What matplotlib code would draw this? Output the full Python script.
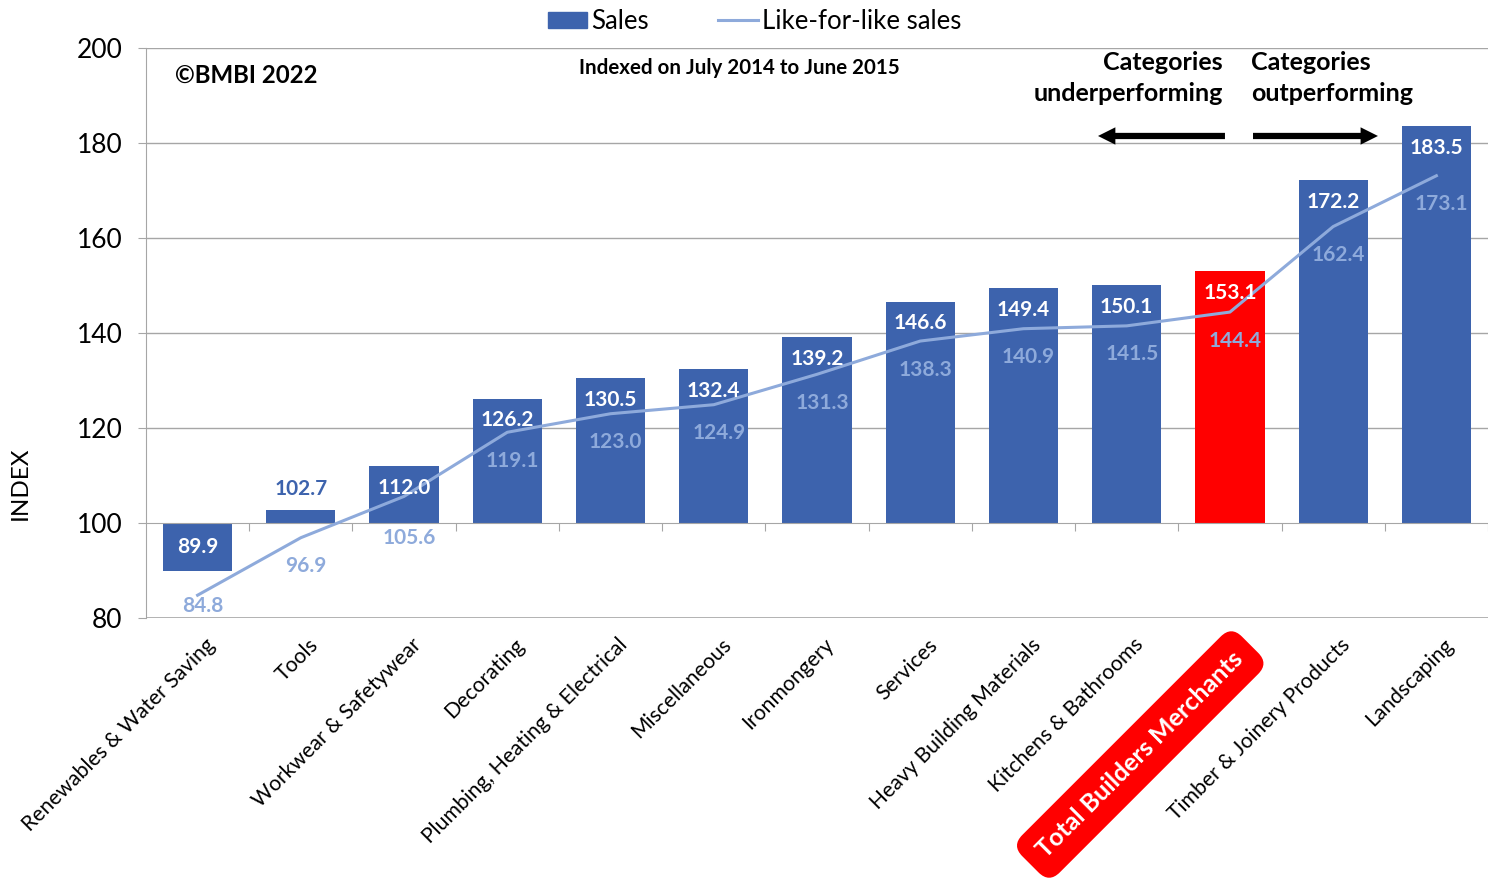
import numpy as np
import matplotlib.pyplot as plt
from matplotlib.lines import Line2D
from matplotlib.patches import Patch

plt.rcParams['font.family'] = ['Lato', 'DejaVu Sans']

categories = ['Renewables & Water Saving', 'Tools', 'Workwear & Safetywear',
              'Decorating', 'Plumbing, Heating & Electrical', 'Miscellaneous',
              'Ironmongery', 'Services', 'Heavy Building Materials',
              'Kitchens & Bathrooms', 'Total Builders Merchants',
              'Timber & Joinery Products', 'Landscaping']
sales = [89.9, 102.7, 112.0, 126.2, 130.5, 132.4, 139.2, 146.6, 149.4,
         150.1, 153.1, 172.2, 183.5]
lfl_sales = [84.8, 96.9, 105.6, 119.1, 123.0, 124.9, 131.3, 138.3, 140.9,
             141.5, 144.4, 162.4, 173.1]
total_name = 'Total Builders Merchants'

BLUE = '#3d63ad'
LIGHT = '#8eaadb'
RED = '#ff0000'
GRID = '#a6a6a6'
BASE = 100

fig = plt.figure(figsize=(14.88, 8.85), dpi=100)
ax = fig.add_axes([0.0981, 0.3017, 0.9019, 0.6441])

x = np.arange(len(categories))
colors = [RED if c == total_name else BLUE for c in categories]
heights = [v - BASE for v in sales]
ax.bar(x, heights, bottom=BASE, width=0.67, color=colors, zorder=2)
ax.plot(x, lfl_sales, color=LIGHT, lw=2.2, zorder=3)

ax.set_xlim(-0.5, 12.4)
ax.set_ylim(80, 200)
ax.set_yticks(range(80, 201, 20))
ax.tick_params(axis='y', labelsize=19, length=6, color=GRID, pad=11)
for y in range(120, 201, 20):
    ax.axhline(y, color=GRID, lw=1, zorder=1)
ax.axhline(80, color=GRID, lw=1.2, zorder=1)

# category axis sits on the 100 baseline, ticks between categories
ax.spines['bottom'].set_position(('data', BASE))
ax.spines['bottom'].set_color(GRID)
ax.spines['left'].set_color(GRID)
ax.spines['top'].set_visible(False)
ax.spines['right'].set_visible(False)
ax.set_xticks(np.arange(len(categories)) + 0.5)
ax.set_xticklabels([])
ax.tick_params(axis='x', length=6, color=GRID)
fig.text(0.0134, 0.454, 'INDEX', fontsize=17.5, rotation=90,
         ha='center', va='center')

for i, name in enumerate(categories):
    if name == total_name:
        ax.annotate(name, xy=(i, 80), xytext=(1, -21), textcoords='offset points',
                    rotation=45, ha='right', va='top', rotation_mode='anchor',
                    fontsize=18, fontweight='bold', color='white',
                    bbox=dict(boxstyle='round,pad=0.6,rounding_size=0.6',
                              fc=RED, ec='none'))
    else:
        ax.annotate(name, xy=(i, 80), xytext=(5, -12), textcoords='offset points',
                    rotation=45, ha='right', va='top', rotation_mode='anchor',
                    fontsize=15.2)

# value labels for sales
for i, v in enumerate(sales):
    if v < BASE:
        ax.text(i, (v + BASE) / 2, f'{v:.1f}', ha='center', va='center',
                color='white', fontsize=15, fontweight='bold', zorder=4)
    elif v - BASE < 6:
        ax.text(i, v + 4.5, f'{v:.1f}', ha='center', va='center',
                color=BLUE, fontsize=15, fontweight='bold', zorder=4)
    else:
        ax.text(i, v - 4.6, f'{v:.1f}', ha='center', va='center',
                color='white', fontsize=15, fontweight='bold', zorder=4)

# value labels for like-for-like
lfl_offset = {0: -2.2, 2: -8.8}
for i, v in enumerate(lfl_sales):
    ax.text(i + 0.05, v + lfl_offset.get(i, -6.0), f'{v:.1f}', ha='center',
            va='center', color=LIGHT, fontsize=15, fontweight='bold', zorder=4)

ax.text(0.0216, 0.9526, '©BMBI 2022', transform=ax.transAxes, fontsize=17.3,
        fontweight='bold', va='center')
ax.text(0.442, 0.965, 'Indexed on July 2014 to June 2015', transform=ax.transAxes,
        fontsize=14.8, fontweight='bold', ha='center', va='center')
ax.text(0.8025, 0.9474, 'Categories\nunderperforming', transform=ax.transAxes,
        fontsize=18, fontweight='bold', ha='right', va='center', linespacing=1.45)
ax.text(0.8234, 0.9474, 'Categories\noutperforming', transform=ax.transAxes,
        fontsize=18, fontweight='bold', ha='left', va='center', linespacing=1.45)
arrow_style = 'simple,head_length=1.25,head_width=1.25,tail_width=0.45'
ax.annotate('', xy=(0.7094, 0.8456), xytext=(0.804, 0.8456),
            xycoords='axes fraction', textcoords='axes fraction',
            arrowprops=dict(arrowstyle=arrow_style, mutation_scale=10,
                            fc='black', ec='none', shrinkA=0, shrinkB=0))
ax.annotate('', xy=(0.918, 0.8456), xytext=(0.8249, 0.8456),
            xycoords='axes fraction', textcoords='axes fraction',
            arrowprops=dict(arrowstyle=arrow_style, mutation_scale=10,
                            fc='black', ec='none', shrinkA=0, shrinkB=0))

handles = [Patch(color=BLUE, label='Sales'),
           Line2D([0], [0], color=LIGHT, lw=2.2, label='Like-for-like sales')]
fig.legend(handles=handles, loc='upper center', bbox_to_anchor=(0.507, 1.016),
           ncol=2, frameon=False, fontsize=18.5, handlelength=1.55,
           handleheight=0.6, handletextpad=0.15, columnspacing=2.7)

fig.savefig('out.png', dpi=100)
